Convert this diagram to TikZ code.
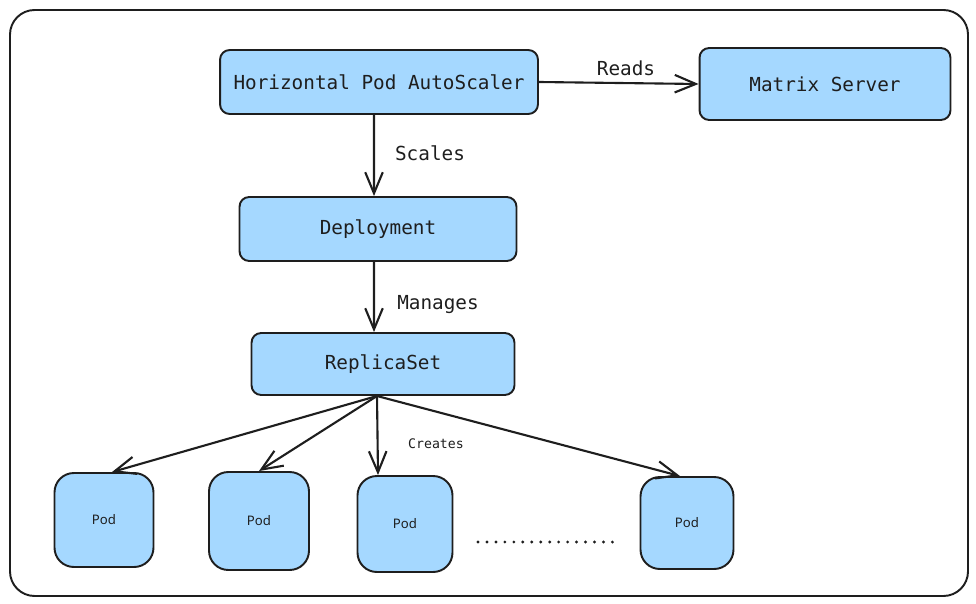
\documentclass[tikz,border=0pt]{standalone}
\usepackage{fontspec}
\setmonofont{DejaVu Sans Mono}
\newfontfamily\podfont{Noto Sans}
\usetikzlibrary{arrows.meta}
\definecolor{boxblue}{HTML}{A5D8FF}
\definecolor{ink}{HTML}{1E1E1E}

\begin{document}
\begin{tikzpicture}[x=0.02cm,y=-0.02cm,
  box/.style={draw=ink,fill=boxblue,line width=1.1pt,rounded corners=5.5pt,
    inner sep=0pt,text=ink,font=\ttfamily\fontsize{11}{13}\selectfont},
  podbox/.style={draw=ink,fill=boxblue,line width=1.1pt,rounded corners=11pt,
    inner sep=0pt,text=ink,font=\podfont\fontsize{7.5}{9}\selectfont},
  link/.style={draw=ink,line width=1.2pt,-{Straight Barb[length=12pt,width=10pt]}},
  tag/.style={text=ink,font=\ttfamily\fontsize{11}{13}\selectfont}]
  \useasboundingbox (0,0) rectangle (976,604);
  \draw[ink,line width=1.1pt,rounded corners=14pt] (10,10) rectangle (968,596);

  \node[box,minimum width=6.36cm,minimum height=1.28cm] (hpa) at (379,82) {Horizontal Pod AutoScaler};
  \node[box,minimum width=5.02cm,minimum height=1.44cm] (ms) at (825,84) {Matrix Server};
  \node[box,minimum width=5.54cm,minimum height=1.28cm] (dep) at (378,229) {Deployment};
  \node[box,minimum width=5.26cm,minimum height=1.24cm] (rs) at (383,364) {ReplicaSet};

  \node[podbox,minimum width=1.98cm,minimum height=1.88cm] (p1) at (104,520) {Pod};
  \node[podbox,minimum width=2.00cm,minimum height=1.96cm] (p2) at (259,521) {Pod};
  \node[podbox,minimum width=1.90cm,minimum height=1.92cm] (p3) at (405,524) {Pod};
  \node[podbox,minimum width=1.86cm,minimum height=1.84cm] (p4) at (687,523) {Pod};

  \draw[link] (hpa.east) -- (ms.west);
  \draw[link] ([xshift=-0.1cm]hpa.south) -- ([xshift=-0.08cm]dep.north);
  \draw[link] ([xshift=-0.08cm]dep.south) -- ([xshift=-0.18cm]rs.north);
  \coordinate (fan) at (377,396);
  \draw[link] (fan) -- ([xshift=0.16cm]p1.north);
  \draw[link] (fan) -- (p2.north);
  \draw[link] (fan) -- ([xshift=-0.54cm]p3.north);
  \draw[link] (fan) -- ([xshift=-0.14cm]p4.north);

  \node[tag] at (626,68) {Reads};
  \node[tag] at (430,153) {Scales};
  \node[tag] at (438,305) {Manages};
  \node[tag,font=\ttfamily\fontsize{7.5}{9}\selectfont] at (436,444) {Creates};

  \draw[ink,line width=1.8pt,line cap=round,dash pattern=on 0pt off 5.1pt] (478,542) -- (614,542);
\end{tikzpicture}
\end{document}
